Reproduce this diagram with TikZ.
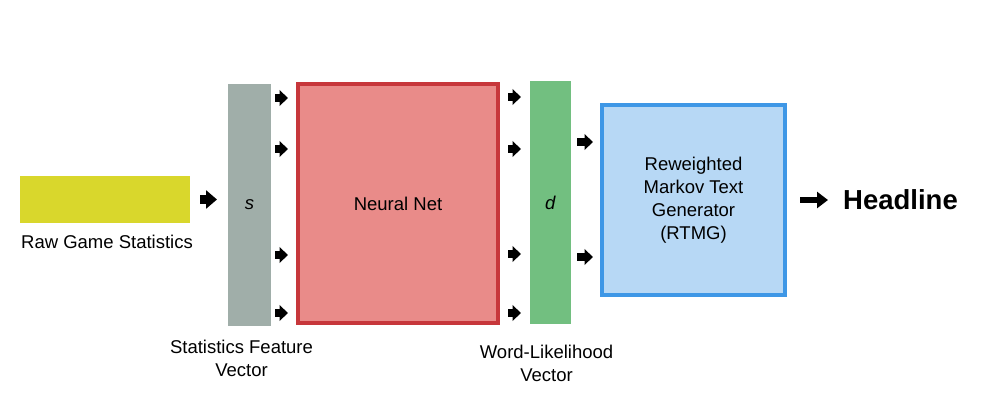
\documentclass[tikz,border=0pt]{standalone}
\usepackage{fontspec}
\setmainfont{Liberation Sans}
\usetikzlibrary{positioning,arrows.meta}
\definecolor{rawyellow}{HTML}{D9D72C}
\definecolor{statgray}{HTML}{A0AEA9}
\definecolor{nnfill}{HTML}{E98B89}
\definecolor{nnline}{HTML}{C7373B}
\definecolor{wordgreen}{HTML}{72BF80}
\definecolor{genfill}{HTML}{B7D8F5}
\definecolor{genline}{HTML}{3E97E6}
\begin{document}
\begin{tikzpicture}
  [x=1pt, y=-1pt,
   every node/.style={font=\fontsize{18.5}{23}\selectfont, align=center, inner sep=0pt},
   box/.style={rectangle, line width=4pt},
   bigarrow/.style={line width=8.5pt, -{Triangle[length=11pt,width=18pt]}},
   smallarrow/.style={line width=7.5pt, -{Triangle[length=8.5pt,width=15.5pt]}},
   outarrow/.style={line width=6pt, -{Triangle[length=11pt,width=16pt]}}]
  \useasboundingbox (0,0) rectangle (1000,400);
  \node[box, fill=rawyellow, minimum width=170pt, minimum height=47pt] (raw) at (105,199.5) {};
  \node[below=10pt of raw, xshift=2pt] (rawlbl) {Raw Game Statistics};
  \node[box, fill=statgray, minimum width=43pt, minimum height=242pt] (s) at (249.5,205) {\textit{s}};
  \node[below=12pt of s, xshift=-8pt] (slbl) {Statistics Feature\\Vector};
  \node[box, draw=nnline, fill=nnfill, minimum width=200pt, minimum height=239pt] (nn) at (398,203.5) {Neural Net};
  \node[box, fill=wordgreen, minimum width=41pt, minimum height=243pt] (d) at (550.5,202.5) {\textit{d}};
  \node[below=19pt of d, xshift=-4pt] (dlbl) {Word-Likelihood\\Vector};
  \node[box, draw=genline, fill=genfill, minimum width=183pt, minimum height=190pt] (rtmg) at (693.5,200) {Reweighted\\Markov Text\\Generator\\(RTMG)};
  \node[anchor=west, font=\fontsize{27.5}{30}\selectfont\bfseries] (head) at (843,200) {Headline};

  \draw[bigarrow, shorten <=8pt, shorten >=9pt] (raw.east) -- (s.west |- raw.east);
  \foreach \y in {98,149,255,313}
    \draw[smallarrow, shorten <=2pt, shorten >=8pt] (s.east |- 0,\y) -- (nn.west |- 0,\y);
  \foreach \y in {97,149,254,313}
    \draw[smallarrow, shorten <=8pt, shorten >=7pt] (nn.east |- 0,\y) -- (d.west |- 0,\y);
  \foreach \y in {142,257}
    \draw[smallarrow, shorten <=4pt, shorten >=7pt] (d.east |- 0,\y) -- (rtmg.west |- 0,\y);
  \draw[outarrow, shorten <=13pt, shorten >=15pt] (rtmg.east) -- (head.west);
\end{tikzpicture}
\end{document}
